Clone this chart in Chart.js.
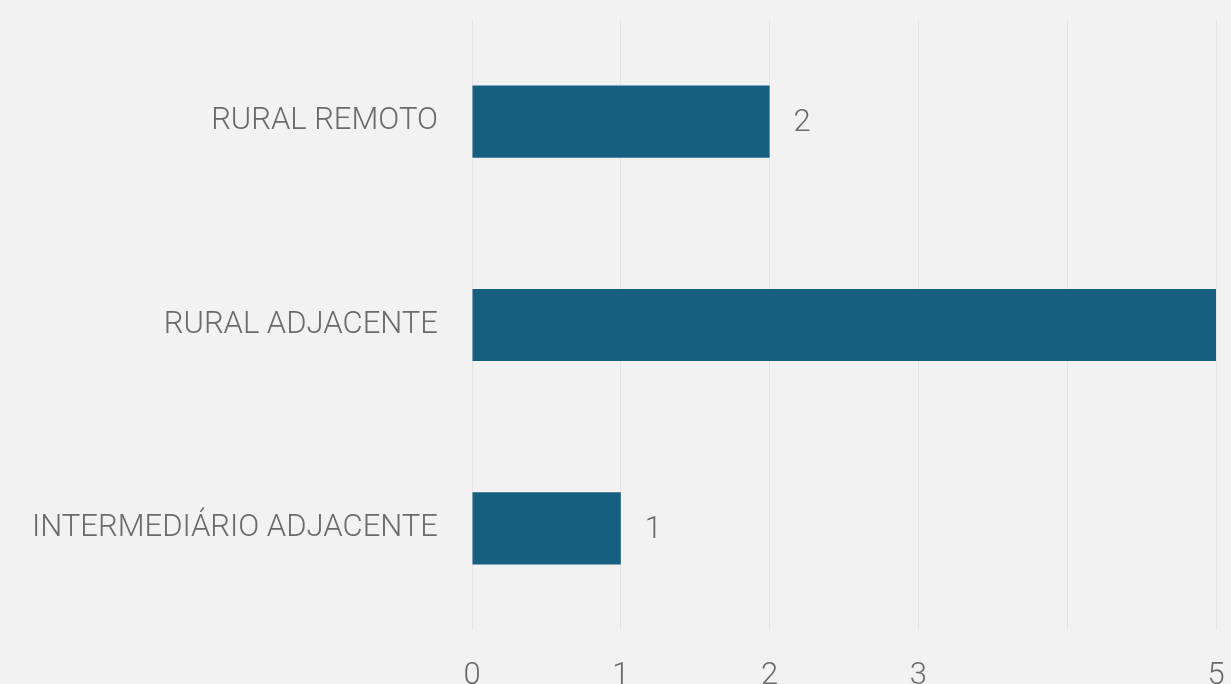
<!DOCTYPE html>
<html>
<head>
<meta charset="utf-8">
<script src="https://cdn.jsdelivr.net/npm/chart.js@4"></script>
<style>
html,body{margin:0;padding:0;background:#f2f2f2;overflow:hidden;}
#wrap{width:1231px;height:684px;position:relative;}
</style>
</head>
<body>
<div id="wrap"><canvas id="c"></canvas></div>
<script>
const categories = ["RURAL REMOTO", "RURAL ADJACENTE", "INTERMEDIÁRIO ADJACENTE"];
const values = [2, 5, 1];
const hiddenTicks = [4];

const FONT = "Roboto, 'Liberation Sans', sans-serif";
const TEXT = "#6a6a6a";

const valueLabels = {
  id: 'valueLabels',
  afterDatasetsDraw(chart) {
    const ctx = chart.ctx;
    const meta = chart.getDatasetMeta(0);
    ctx.save();
    ctx.font = "300 31px " + FONT;
    ctx.fillStyle = TEXT;
    ctx.textAlign = 'left';
    ctx.textBaseline = 'middle';
    meta.data.forEach((bar, i) => {
      const x = bar.x + 24;
      if (x < chart.width - 10) ctx.fillText(String(values[i]), x, bar.y + 2);
    });
    ctx.restore();
  }
};

new Chart(document.getElementById('c'), {
  type: 'bar',
  data: {
    labels: categories,
    datasets: [{
      data: values,
      backgroundColor: '#165f80',
      categoryPercentage: 0.71,
      barPercentage: 0.5
    }]
  },
  options: {
    indexAxis: 'y',
    responsive: true,
    maintainAspectRatio: false,
    animation: false,
    layout: { padding: { top: 20, right: 15, left: 0, bottom: 0 } },
    plugins: { legend: { display: false }, tooltip: { enabled: false } },
    scales: {
      x: {
        min: 0, max: 5,
        ticks: {
          stepSize: 1,
          padding: 28,
          color: TEXT,
          font: { family: FONT, size: 31, weight: 300 },
          callback: v => hiddenTicks.includes(v) ? '' : v
        },
        grid: { color: '#e4e4e4', drawTicks: false, lineWidth: 1 },
        border: { display: false },
        afterFit: s => { s.height = 54; s.paddingLeft = 0; s.paddingRight = 0; }
      },
      y: {
        ticks: {
          padding: 34,
          color: TEXT,
          font: { family: FONT, size: 31, weight: 300 }
        },
        grid: { display: false, drawTicks: false },
        border: { display: false },
        afterFit: s => { s.width = 472; s.paddingTop = 0; s.paddingBottom = 0; }
      }
    }
  },
  plugins: [valueLabels]
});
</script>
</body>
</html>
